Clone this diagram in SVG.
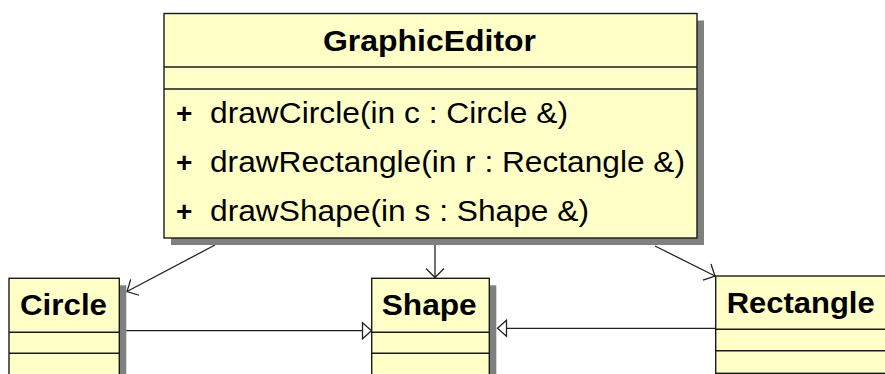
<svg xmlns="http://www.w3.org/2000/svg" width="885" height="374" viewBox="0 0 885 374">
<style>
.box{fill:#ffffc8;stroke:#1a1a1a;stroke-width:1.4}
.shadow{fill:#808080}
.sep{stroke:#1a1a1a;stroke-width:1.4}
.title{font-family:"Liberation Sans",Arial,sans-serif;font-weight:bold;font-size:29px;fill:#000}
.op{font-family:"Liberation Sans",Arial,sans-serif;font-size:30px;fill:#000}
.plus{font-family:"Liberation Sans",Arial,sans-serif;font-weight:bold;font-size:28px;fill:#000}
.conn{stroke:#222;stroke-width:1.3;fill:none}
</style>
<defs>
<marker id="open" viewBox="-12 -12 14 24" refX="0" refY="0" markerWidth="14" markerHeight="24" markerUnits="userSpaceOnUse" orient="auto">
<path d="M-9,-9 L0,0 L-9,9" fill="none" stroke="#222" stroke-width="1.3"/>
</marker>
<marker id="tri" viewBox="-11 -10 13 20" refX="0" refY="0" markerWidth="13" markerHeight="20" markerUnits="userSpaceOnUse" orient="auto">
<path d="M-9,-8 L0,0 L-9,8 Z" fill="#fff" stroke="#222" stroke-width="1.3"/>
</marker>
</defs>

<g id="connectors">
<line class="conn" x1="215" y1="245" x2="127" y2="291.5" marker-end="url(#open)"/>
<line class="conn" x1="435" y1="245" x2="435" y2="277.5" marker-end="url(#open)"/>
<line class="conn" x1="655" y1="246" x2="715" y2="276" marker-end="url(#open)"/>
<line class="conn" x1="126" y1="330.7" x2="371.5" y2="330.7" marker-end="url(#tri)"/>
<line class="conn" x1="715" y1="328.3" x2="497.5" y2="328.3" marker-end="url(#tri)"/>
</g>

<g id="GraphicEditor">
<rect class="shadow" x="171" y="20.5" width="533" height="224.5"/>
<rect class="box" x="164" y="13.5" width="533" height="224.5"/>
<line class="sep" x1="164" y1="67" x2="697" y2="67"/>
<line class="sep" x1="164" y1="89" x2="697" y2="89"/>
<text class="title" x="323" y="51" textLength="213" lengthAdjust="spacingAndGlyphs">GraphicEditor</text>
<text class="plus" x="176" y="123">+</text>
<text class="op" x="210" y="123" textLength="358" lengthAdjust="spacingAndGlyphs">drawCircle(in c : Circle &amp;)</text>
<text class="plus" x="176" y="172">+</text>
<text class="op" x="210" y="172" textLength="475" lengthAdjust="spacingAndGlyphs">drawRectangle(in r : Rectangle &amp;)</text>
<text class="plus" x="176" y="221">+</text>
<text class="op" x="210" y="221" textLength="379" lengthAdjust="spacingAndGlyphs">drawShape(in s : Shape &amp;)</text>
</g>

<g id="Circle">
<rect class="shadow" x="16" y="285.3" width="110.3" height="100"/>
<rect class="box" x="9" y="278.3" width="110.3" height="110"/>
<line class="sep" x1="9" y1="332.3" x2="119.3" y2="332.3"/>
<line class="sep" x1="9" y1="353.3" x2="119.3" y2="353.3"/>
<text class="title" x="20" y="315" textLength="87" lengthAdjust="spacingAndGlyphs">Circle</text>
</g>

<g id="Shape">
<rect class="shadow" x="378.7" y="285.3" width="117.6" height="100"/>
<rect class="box" x="371.7" y="278.3" width="117.6" height="110"/>
<line class="sep" x1="371.7" y1="332.3" x2="489.3" y2="332.3"/>
<line class="sep" x1="371.7" y1="353.3" x2="489.3" y2="353.3"/>
<text class="title" x="381.7" y="315" textLength="95" lengthAdjust="spacingAndGlyphs">Shape</text>
</g>

<g id="Rectangle">
<rect class="shadow" x="722.7" y="283" width="200" height="97"/>
<rect class="box" x="715.7" y="276" width="200" height="97.3"/>
<line class="sep" x1="715.7" y1="329.3" x2="900" y2="329.3"/>
<line class="sep" x1="715.7" y1="350.7" x2="900" y2="350.7"/>
<text class="title" x="726.7" y="313" textLength="148" lengthAdjust="spacingAndGlyphs">Rectangle</text>
</g>
</svg>
